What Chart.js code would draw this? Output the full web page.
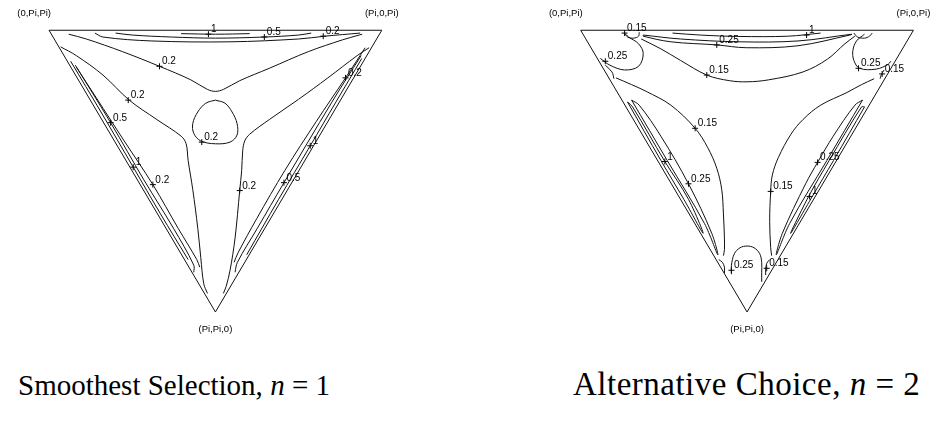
<!DOCTYPE html>
<html>
<head>
<meta charset="utf-8">
<script src="https://cdn.jsdelivr.net/npm/chart.js@4.4.0/dist/chart.umd.min.js"></script>
<style>
  html, body { margin: 0; padding: 0; background: #fff; }
  #wrap { position: relative; width: 938px; height: 428px; overflow: hidden; }
  #wrap canvas { position: absolute; top: 0; }
  .title {
    position: absolute; line-height: 34px;
    font-family: "Liberation Serif", "DejaVu Serif", serif;
    color: #000; white-space: nowrap;
  }
</style>
</head>
<body>
<div id="wrap">
  <canvas id="smooth" width="469" height="350" style="left:0"></canvas>
  <canvas id="alt" width="469" height="350" style="left:469px"></canvas>
  <div class="title" style="left:18px; top:368px; font-size:29px">Smoothest Selection, <i>n</i> = 1</div>
  <div class="title" style="left:573px; top:367px; font-size:33px; letter-spacing:0.5px">Alternative Choice, <i>n</i> = 2</div>
</div>
<script>
// triangle coordinates: x 0..100 along the top edge, y 0 (bottom corner) .. 100 (top edge)
const triangle = [[0, 100], [100, 100], [50, 0], [0, 100]];
const cornerText = ["(0,Pi,Pi)", "(Pi,0,Pi)", "(Pi,Pi,0)"];
const cornerAt = [[0.6, 105], [100, 105], [50, -7]];
const cornerAlign = ["right", "center", "center"];

// ---- Smoothest Selection, n = 1 ----
const s1Top = [[39.7, 98.8], [50, 98.6], [60.3, 98.8]];
const s05Top = [[20.0, 99.0], [25.0, 98.3], [36.8, 97.6], [50, 97.2], [64.7, 97.6], [75.0, 98.3], [78.8, 99.0]];
const s02Top = [[13.8, 99.0], [16.2, 97.6], [30.9, 96.2], [54.4, 95.9], [75.0, 96.9], [82.9, 97.9], [93.5, 99.0]];
const s02A = [[5.9, 98.6], [11.2, 96.9], [22.1, 92.4], [33.2, 87.2], [42.6, 82.4], [47.6, 79.0], [50.0, 78.3],
  [52.4, 79.0], [57.3, 82.1], [66.2, 86.5], [77.9, 92.4], [88.2, 96.6], [93.2, 98.3], [94.1, 98.6]];
const s02B = [[3.5, 94.1], [8.2, 91.0], [16.2, 84.1], [24.1, 75.2], [32.4, 68.3], [39.7, 62.4], [41.2, 59.7],
  [41.8, 53.8], [43.2, 43.4], [44.7, 29.7], [45.6, 19.3], [46.5, 10.0], [47.6, 6.6]];
const s02C = [[96.2, 93.8], [92.6, 91.0], [83.8, 83.1], [75.0, 75.5], [66.2, 68.3], [60.3, 63.1], [58.8, 60.7],
  [58.2, 57.2], [57.9, 50.3], [57.3, 43.1], [55.9, 26.2], [54.4, 14.8], [53.2, 9.0], [52.4, 6.6]];
const s02Loop = [[50, 75.2], [47.1, 74.1], [44.7, 71.0], [43.2, 66.9], [43.5, 63.4], [45.6, 60.7], [50, 59.7],
  [54.4, 60.3], [56.5, 62.8], [56.5, 66.9], [55.0, 71.0], [52.9, 74.1], [50, 75.2]];
const s1Left = [[6.5, 89.0], [15.6, 71.0], [25.3, 51.4], [33.5, 34.8], [41.8, 18.6]];
const s05Left = [[7.9, 87.6], [18.5, 67.2], [28.5, 46.9], [37.4, 29.7], [43.5, 16.6], [43.5, 14.1]];
const s02Left = [[8.2, 86.9], [14.1, 76.2], [22.6, 60.7], [31.2, 45.2], [38.8, 29.7], [44.4, 18.6], [45.3, 15.9]];
const s1Right = [[94.0, 90.0], [86.2, 74.5], [78.5, 59.0], [69.0, 40.0], [59.4, 20.3]];
const s05Right = [[93.8, 91.0], [85.0, 74.5], [70.6, 45.9], [62.6, 29.7], [56.6, 17.6], [55.9, 14.1]];
const s02Right = [[95.0, 93.8], [89.1, 83.1], [80.3, 67.6], [70.9, 50.3], [62.4, 33.1], [56.8, 21.0], [55.6, 17.6]];
const sMarks = [[47.9, 98.6, "1"], [64.7, 97.6, "0.5"], [82.4, 97.9, "0.2"], [33.2, 87.2, "0.2"], [23.8, 75.2, "0.2"],
  [18.5, 67.2, "0.5"], [25.3, 51.4, "1"], [31.2, 45.2, "0.2"], [45.9, 60.3, "0.2"], [57.3, 43.1, "0.2"],
  [70.6, 45.9, "0.5"], [78.5, 59.0, "1"], [89.1, 83.1, "0.2"]];

// ---- Alternative Choice, n = 2 ----
const a1Top = [[27.6, 99.0], [35.9, 98.3], [47.6, 97.8], [62.4, 97.9], [72.1, 99.0]];
const a025Top = [[18.8, 98.3], [30.0, 96.9], [47.6, 95.9], [65.3, 96.2], [81.5, 98.6], [80.9, 98.3], [65.3, 94.5],
  [49.7, 93.8], [40.9, 94.8], [27.1, 95.9], [18.8, 97.9], [18.8, 98.3]];
const a015Top = [[18.2, 96.9], [24.1, 93.4], [30.0, 89.3], [37.9, 84.1], [44.7, 82.1], [50.0, 81.7], [56.5, 82.4],
  [66.8, 85.2], [74.1, 89.7], [79.4, 95.2], [82.4, 97.9]];
const a015CornerL = [[13.2, 99.0], [14.1, 97.6], [15.9, 97.2], [17.4, 97.9], [17.6, 99.3]];
const a015CornerR = [[82.1, 99.0], [83.2, 97.6], [85.3, 97.2], [86.8, 97.9], [87.6, 99.0]];
const a025LoopL = [[5.9, 90.0], [8.8, 87.6], [13.2, 85.9], [17.4, 87.2], [18.8, 91.7], [17.4, 95.2], [14.4, 97.6], [13.5, 98.6]];
const a025LoopR = [[85.3, 98.6], [82.9, 96.2], [81.8, 92.8], [82.1, 89.3], [83.8, 86.5], [88.8, 86.2], [92.4, 87.9], [93.2, 89.0]];
const a015HookL = [[7.4, 87.6], [9.4, 85.2], [10.0, 82.8]];
const a015HookR = [[91.2, 85.9], [90.3, 84.1], [90.0, 82.8]];
const a015LobeL = [[10.6, 83.1], [15.3, 80.7], [19.7, 78.3], [27.1, 73.4], [34.4, 65.2], [38.2, 58.3], [40.9, 51.0],
  [42.4, 43.4], [42.9, 34.8], [43.2, 26.2], [43.2, 22.1], [42.9, 20.0]];
const a025LensL = [[15.3, 75.2], [26.0, 53.8], [37.2, 31.4], [41.2, 20.3], [39.4, 27.9], [32.4, 45.5], [24.1, 62.4],
  [17.6, 73.4], [15.3, 75.2]];
const a1LensL = [[14.1, 74.5], [24.1, 53.8], [31.0, 40.0], [36.8, 27.9], [32.4, 40.0], [25.3, 53.4], [15.6, 72.8], [14.1, 74.5]];
const a015LobeR = [[88.2, 82.8], [84.4, 80.7], [80.0, 77.9], [72.1, 73.4], [66.8, 68.3], [63.2, 63.1], [59.4, 54.8],
  [57.6, 48.6], [57.1, 42.8], [56.8, 32.1], [57.1, 22.8], [57.4, 20.0]];
const a025LensR = [[84.7, 75.2], [74.0, 53.8], [62.8, 31.4], [58.8, 20.3], [60.6, 27.9], [67.6, 45.5], [71.2, 53.1],
  [75.9, 62.4], [82.4, 73.4], [84.7, 75.2]];
const a1LensR = [[85.3, 72.8], [76.0, 53.8], [69.6, 41.0], [63.1, 27.9], [68.5, 41.0], [74.7, 53.8], [84.4, 72.8], [85.3, 72.8]];
const a025Arch = [[45.3, 13.4], [45.3, 16.6], [46.2, 20.7], [47.9, 22.8], [50.0, 23.4], [52.1, 22.8], [53.8, 20.7],
  [54.4, 17.6], [54.4, 14.1], [54.4, 10.7]];
const a015FootL = [[41.5, 18.6], [42.6, 17.6], [43.2, 15.9], [43.2, 13.8]];
const a015FootR = [[56.8, 18.6], [55.9, 17.2], [55.6, 15.2], [55.6, 13.1]];
const aMarks = [[13.2, 99.0, "0.15"], [67.9, 98.3, "1"], [40.9, 94.8, "0.25"], [7.4, 89.0, "0.25"], [37.9, 84.1, "0.15"],
  [83.5, 86.5, "0.25"], [90.6, 84.5, "0.15"], [34.4, 65.2, "0.15"], [25.3, 53.4, "1"], [32.4, 45.5, "0.25"],
  [57.1, 42.8, "0.15"], [71.2, 53.1, "0.25"], [68.8, 41.0, "1"], [45.3, 14.8, "0.25"], [55.9, 15.5, "0.15"]];

// page layout (pixels)
const TRI_W = 340, TRI_H = 290, TRI_BOTTOM = 316;
const CANVAS_W = 469, CANVAS_H = 350;

const labelPlugin = {
  id: "contourLabels",
  afterDatasetsDraw(chart, args, opts) {
    const { ctx, scales: { x, y } } = chart;
    ctx.save();
    ctx.fillStyle = "#000";
    ctx.font = '10px "Liberation Sans", Arial, sans-serif';
    ctx.textBaseline = "alphabetic";
    ctx.textAlign = "left";
    opts.marks.forEach(([vx, vy, txt]) => {
      ctx.fillText(txt, x.getPixelForValue(vx) + 2.5, y.getPixelForValue(vy) - 2);
    });
    ctx.font = '9.5px "Liberation Sans", Arial, sans-serif';
    cornerText.forEach((txt, i) => {
      ctx.textAlign = cornerAlign[i];
      ctx.fillText(txt, x.getPixelForValue(cornerAt[i][0]), y.getPixelForValue(cornerAt[i][1]));
    });
    ctx.restore();
  }
};

function lineSet(pts, tension) {
  return {
    data: pts.map(([x, y]) => ({ x, y })),
    showLine: true,
    borderColor: "#111",
    borderWidth: 1,
    pointRadius: 0,
    tension: tension,
    fill: false
  };
}

function makeChart(id, lines, marks, triLeft) {
  const ux = TRI_W / 100, uy = TRI_H / 100;
  const datasets = [lineSet(triangle, 0)].concat(lines.map(l => lineSet(l, 0.35)));
  datasets.push({
    data: marks.map(([x, y]) => ({ x, y })),
    showLine: false,
    pointStyle: "cross",
    pointRadius: 3,
    borderColor: "#000",
    borderWidth: 1
  });
  return new Chart(document.getElementById(id), {
    type: "scatter",
    data: { datasets },
    options: {
      responsive: false,
      animation: false,
      events: [],
      layout: { padding: 0 },
      plugins: {
        legend: { display: false },
        tooltip: { enabled: false },
        contourLabels: { marks }
      },
      scales: {
        x: { type: "linear", display: false, min: -triLeft / ux, max: (CANVAS_W - triLeft) / ux },
        y: { type: "linear", display: false, min: (TRI_BOTTOM - CANVAS_H) / uy, max: TRI_BOTTOM / uy }
      }
    },
    plugins: [labelPlugin]
  });
}

makeChart("smooth",
  [s1Top, s05Top, s02Top, s02A, s02B, s02C, s02Loop, s1Left, s05Left, s02Left, s1Right, s05Right, s02Right],
  sMarks, 45);
makeChart("alt",
  [a1Top, a025Top, a015Top, a015CornerL, a015CornerR, a025LoopL, a025LoopR, a015HookL, a015HookR,
   a015LobeL, a025LensL, a1LensL, a015LobeR, a025LensR, a1LensR, a025Arch, a015FootL, a015FootR],
  aMarks, 578 - 469);
</script>
</body>
</html>
